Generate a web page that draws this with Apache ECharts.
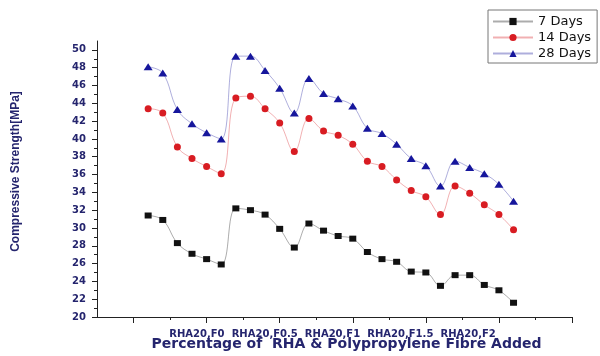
<!DOCTYPE html>
<html>
<head>
<meta charset="utf-8">
<script src="https://cdn.jsdelivr.net/npm/echarts@6/dist/echarts.min.js"></script>
<style>
  html, body { margin: 0; padding: 0; background: #ffffff; }
  #chart { width: 600px; height: 356px; }
</style>
</head>
<body>
<div id="chart"></div>
<script>
// Mix groups shown under the x axis
const groupLabels = ['RHA20,F0', 'RHA20,F0.5', 'RHA20,F1', 'RHA20,F1.5', 'RHA20,F2'];

// Compressive strength (MPa) per specimen, in test order
const days7  = [31.4, 30.9, 28.3, 27.1, 26.5, 25.9, 32.2, 32.0, 31.5, 29.9, 27.8, 30.5, 29.7,
                29.1, 28.8, 27.3, 26.5, 26.2, 25.1, 25.0, 23.5, 24.7, 24.7, 23.6, 23.0, 21.6];
const days14 = [43.4, 42.9, 39.1, 37.8, 36.9, 36.1, 44.6, 44.8, 43.4, 41.8, 38.6, 42.3, 40.9,
                40.4, 39.4, 37.5, 36.9, 35.4, 34.2, 33.5, 31.5, 34.7, 33.9, 32.6, 31.5, 29.8];
const days28 = [48.1, 47.4, 43.3, 41.7, 40.7, 40.0, 49.3, 49.3, 47.7, 45.7, 42.9, 46.8, 45.1,
                44.5, 43.7, 41.2, 40.6, 39.4, 37.8, 37.0, 34.7, 37.5, 36.8, 36.1, 34.9, 33.0];

// Tick values
const yTickValues  = [20, 22, 24, 26, 28, 30, 32, 34, 36, 38, 40, 42, 44, 46, 48, 50];
const xMajorTicks  = [-1, 4, 9, 14, 19, 24, 29];
const xMinorTicks  = [1.5, 6.5, 11.5, 16.5, 21.5, 26.5];

const NAVY = '#25256e';
const AXIS = '#222222';

const toPoints = arr => arr.map((v, i) => [i, v]);

function lineSeries(name, data, symbol, size, color) {
  return {
    name: name,
    type: 'line',
    xAxisIndex: 0,
    yAxisIndex: 0,
    data: toPoints(data),
    smooth: 0.4,
    symbol: symbol,
    symbolSize: size,
    itemStyle: { color: color },
    lineStyle: { color: color, width: 1, opacity: 0.35 },
    emphasis: { disabled: true },
    z: 3
  };
}

const chart = echarts.init(document.getElementById('chart'), null, { renderer: 'canvas' });

chart.setOption({
  animation: false,
  backgroundColor: '#ffffff',
  grid: [
    { left: 97, right: 28, top: 41, bottom: 36 },
    { left: 163, width: 339, top: 41, bottom: 36 }
  ],
  legend: {
    orient: 'vertical',
    left: 488,
    top: 10,
    padding: [5, 6, 3, 4],
    itemWidth: 40,
    itemHeight: 9,
    itemGap: 3,
    borderColor: '#777777',
    borderWidth: 1,
    backgroundColor: '#ffffff',
    textStyle: { fontFamily: 'DejaVu Sans', fontSize: 13, color: '#111111' },
    data: ['7 Days', '14 Days', '28 Days']
  },
  xAxis: [
    {
      type: 'value',
      gridIndex: 0,
      position: 'bottom',
      min: -3.5,
      max: 29,
      axisLine: { show: true, onZero: false, lineStyle: { color: AXIS, width: 1 } },
      axisTick: { show: true, customValues: xMajorTicks, length: 6, lineStyle: { color: AXIS } },
      axisLabel: { show: false },
      splitLine: { show: false },
      name: 'Percentage of  RHA & Polypropylene Fibre Added',
      nameLocation: 'middle',
      nameGap: 20,
      nameTextStyle: {
        fontFamily: 'DejaVu Sans', fontWeight: 'bold', fontSize: 14, color: NAVY,
        padding: [0, 0, 0, 24]
      }
    },
    {
      type: 'value',
      gridIndex: 0,
      position: 'bottom',
      min: -3.5,
      max: 29,
      axisLine: { show: false, onZero: false },
      axisTick: { show: true, customValues: xMinorTicks, length: 3, lineStyle: { color: AXIS } },
      axisLabel: { show: false },
      splitLine: { show: false }
    },
    {
      type: 'category',
      gridIndex: 1,
      position: 'bottom',
      data: groupLabels,
      axisLine: { show: false, onZero: false },
      axisTick: { show: false },
      axisLabel: {
        interval: 0,
        margin: 9,
        fontFamily: 'DejaVu Sans', fontWeight: 'bold', fontSize: 10, color: NAVY
      },
      splitLine: { show: false }
    }
  ],
  yAxis: [
    {
      type: 'value',
      gridIndex: 0,
      min: 20,
      max: 51,
      interval: 2,
      axisLine: { show: true, onZero: false, lineStyle: { color: AXIS, width: 1 } },
      axisTick: { show: true, customValues: yTickValues, length: 5, lineStyle: { color: AXIS } },
      minorTick: { show: true, splitNumber: 2, length: 3, lineStyle: { color: AXIS } },
      axisLabel: {
        customValues: yTickValues,
        margin: 11,
        fontFamily: 'DejaVu Sans', fontWeight: 'bold', fontSize: 10, color: NAVY
      },
      splitLine: { show: false },
      name: 'Compressive Strength[MPa]',
      nameLocation: 'middle',
      nameGap: 75,
      nameTextStyle: {
        fontFamily: 'Liberation Sans', fontWeight: 'bold', fontSize: 12, color: NAVY,
        padding: [0, 0, 0, 15]
      }
    },
    { type: 'value', gridIndex: 1, show: false }
  ],
  series: [
    lineSeries('7 Days',  days7,  'rect',     [7, 6], '#111111'),
    lineSeries('14 Days', days14, 'circle',   7,      '#d81c22'),
    lineSeries('28 Days', days28, 'triangle', [9, 7], '#16169c')
  ]
});
</script>
</body>
</html>
